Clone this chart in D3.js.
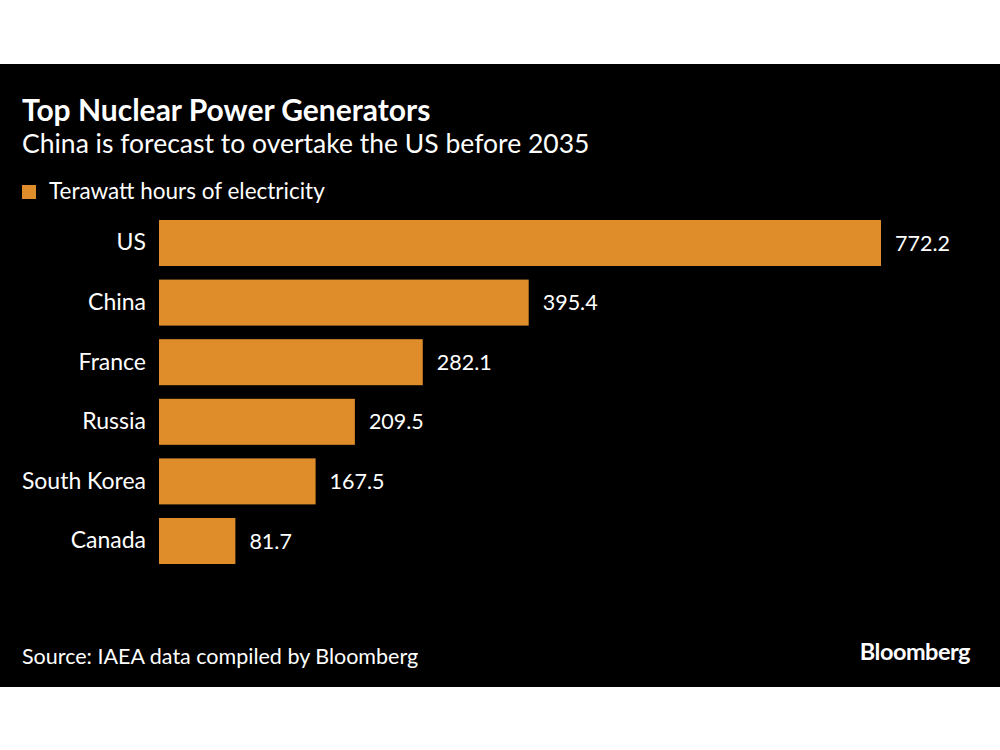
<!DOCTYPE html>
<html><head><meta charset="utf-8">
<script src="https://cdn.jsdelivr.net/npm/d3@7"></script>
<style>body{margin:0;background:#fff;} svg{display:block;}</style>
</head><body>
<svg id="chart" width="1000" height="750"></svg>
<script>
const categories = ["US", "China", "France", "Russia", "South Korea", "Canada"];
const values = [772.2, 395.4, 282.1, 209.5, 167.5, 81.7];
const valueLabels = ["772.2", "395.4", "282.1", "209.5", "167.5", "81.7"];
const seriesName = "Terawatt hours of electricity";
const title = "Top Nuclear Power Generators";
const subtitle = "China is forecast to overtake the US before 2035";
const source = "Source: IAEA data compiled by Bloomberg";

const FONT = "Lato, 'Noto Sans', sans-serif";
const BAR = "#df8c2a";
const svg = d3.select("#chart");
svg.append("rect").attr("x",0).attr("y",64).attr("width",1000).attr("height",623).attr("fill","#000");

svg.append("text").attr("x",22).attr("y",121).attr("fill","#fff")
  .attr("font-family",FONT).attr("font-weight",700).attr("font-size",30).text(title);
svg.append("text").attr("x",22).attr("y",153).attr("fill","#fff")
  .attr("font-family",FONT).attr("font-size",26.5).text(subtitle);

svg.append("rect").attr("x",22).attr("y",185).attr("width",14).attr("height",14).attr("fill",BAR);
svg.append("text").attr("x",49).attr("y",199).attr("fill","#fff")
  .attr("font-family",FONT).attr("font-size",22.5).text(seriesName);

const x = d3.scaleLinear().domain([0, 772.2]).range([159, 881]);
const y = d3.scaleBand().domain(categories).range([220, 564]).paddingInner(0.228).paddingOuter(0);

const g = svg.append("g");
g.selectAll("rect.bar").data(categories).join("rect").attr("class","bar")
  .attr("x", x(0)).attr("y", d => y(d))
  .attr("width", (d,i) => x(values[i]) - x(0)).attr("height", y.bandwidth())
  .attr("fill", BAR);

const yAxis = d3.axisLeft(y).tickSize(0).tickPadding(13);
const ax = svg.append("g").attr("transform", `translate(${x(0)},0)`).call(yAxis);
ax.select(".domain").remove();
ax.selectAll("text").attr("fill","#fff").attr("font-family",FONT).attr("font-size",23);

g.selectAll("text.val").data(categories).join("text").attr("class","val")
  .attr("x", (d,i) => x(values[i]) + 14).attr("y", d => y(d) + y.bandwidth()/2)
  .attr("dy","0.35em").attr("fill","#fff").attr("font-family",FONT).attr("font-size",21.5)
  .text((d,i) => valueLabels[i]);

svg.append("text").attr("x",22).attr("y",664).attr("fill","#fff")
  .attr("font-family",FONT).attr("font-size",21.5).text(source);
svg.append("text").attr("x",970).attr("y",660).attr("text-anchor","end").attr("fill","#fff")
  .attr("font-family",FONT).attr("font-weight",700).attr("font-size",23.5).attr("letter-spacing",-0.5).text("Bloomberg");
</script>
</body></html>
